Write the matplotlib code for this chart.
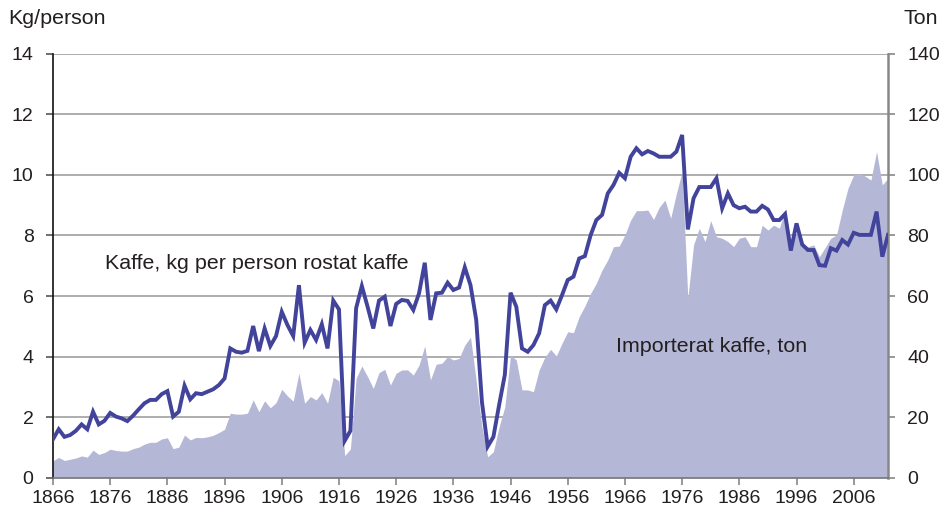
import numpy as np
import matplotlib
matplotlib.use("Agg")
import matplotlib.pyplot as plt

plt.rcParams['font.family'] = ['Liberation Sans', 'DejaVu Sans']

years = np.arange(1866, 2013)

# kaffe, kg per person (rostat), left axis
kg_person = [
    1.27, 1.60, 1.35, 1.41, 1.55, 1.76, 1.60, 2.18, 1.76, 1.88,   # 1866-1875
    2.14, 2.02, 1.96, 1.87, 2.05, 2.26, 2.46, 2.57, 2.57, 2.76,   # 1876-1885
    2.86, 2.02, 2.18, 3.04, 2.59, 2.79, 2.76, 2.84, 2.92, 3.06,   # 1886-1895
    3.28, 4.27, 4.16, 4.13, 4.19, 5.01, 4.18, 4.93, 4.35, 4.68,   # 1896-1905
    5.48, 5.04, 4.68, 6.36, 4.46, 4.88, 4.55, 5.07, 4.27, 5.85,   # 1906-1915
    5.56, 1.22, 1.55, 5.60, 6.33, 5.65, 4.93, 5.85, 5.98, 5.01,   # 1916-1925
    5.74, 5.87, 5.84, 5.54, 6.09, 7.10, 5.21, 6.09, 6.11, 6.44,   # 1926-1935
    6.20, 6.28, 6.95, 6.36, 5.21, 2.50, 1.03, 1.35, 2.40, 3.40,   # 1936-1945
    6.11, 5.65, 4.27, 4.16, 4.38, 4.77, 5.70, 5.85, 5.56, 6.03,   # 1946-1955
    6.53, 6.64, 7.24, 7.32, 8.01, 8.51, 8.68, 9.39, 9.67, 10.07,  # 1956-1965
    9.89, 10.60, 10.88, 10.68, 10.79, 10.71, 10.60, 10.60, 10.60, 10.77,  # 1966-1975
    11.32, 8.20, 9.23, 9.60, 9.60, 9.60, 9.89, 8.90, 9.39, 9.00,  # 1976-1985
    8.90, 8.95, 8.79, 8.79, 8.98, 8.86, 8.51, 8.51, 8.71, 7.50,   # 1986-1995
    8.40, 7.70, 7.52, 7.52, 7.02, 7.00, 7.58, 7.50, 7.85, 7.70,   # 1996-2005
    8.09, 8.02, 8.02, 8.02, 8.79, 7.30, 8.02,                     # 2006-2012
]

# importerat kaffe, ton, right axis
ton = [
    5.6, 6.7, 5.7, 6.1, 6.5, 7.2, 6.8, 9.1, 7.7, 8.3,
    9.4, 9.0, 8.8, 8.8, 9.6, 10.1, 11.1, 11.7, 11.7, 12.8,
    13.2, 9.6, 10.1, 14.1, 12.5, 13.3, 13.2, 13.5, 14.0, 14.9,
    16.0, 21.3, 21.0, 21.0, 21.3, 25.7, 21.8, 25.4, 23.1, 24.8,
    29.2, 27.0, 25.3, 34.5, 24.6, 26.8, 25.7, 28.1, 24.6, 33.2,
    32.0, 7.3, 9.5, 32.8, 36.9, 33.4, 29.5, 34.7, 35.8, 30.6,
    34.5, 35.6, 35.6, 33.9, 37.2, 43.5, 32.3, 37.5, 37.8, 40.0,
    38.9, 39.4, 43.8, 46.4, 32.0, 16.8, 6.9, 8.6, 16.8, 23.4,
    40.5, 38.9, 29.0, 29.0, 28.4, 35.6, 39.8, 42.4, 40.2, 44.4,
    48.2, 47.9, 53.2, 56.7, 60.9, 64.2, 68.6, 71.9, 76.3, 76.5,
    80.2, 85.1, 88.2, 88.2, 88.4, 85.3, 89.3, 91.7, 85.7, 93.9,
    101.1, 59.3, 76.9, 82.4, 78.0, 84.9, 79.6, 79.1, 78.0, 76.3,
    79.1, 79.6, 76.3, 76.3, 83.4, 81.8, 83.4, 82.4, 88.4, 78.5,
    80.7, 76.9, 76.3, 76.9, 73.0, 76.0, 79.1, 80.2, 88.4, 95.6,
    100.0, 100.5, 99.6, 98.3, 107.7, 96.7, 98.9,
]

xticks = np.arange(1866, 2007, 10)
line_col = '#42439b'
area_col = '#b5b7d7'
txt_col = '#231f20'

fig = plt.figure(figsize=(9.43, 5.15), dpi=100)
ax = fig.add_axes([0.0562, 0.0724, 0.8855, 0.8231])
ax2 = ax.twinx()

# area on right axis, with grid behind it
ax2.fill_between(years, 0, ton, color=area_col, linewidth=0, zorder=2)
ax2.set_ylim(0, 140)
ax2.set_yticks(np.arange(0, 141, 20))
ax2.set_axisbelow(True)
ax2.yaxis.grid(True, color='#a0a0a0', linewidth=1.2)

ax.plot(years, kg_person, color=line_col, linewidth=2.8, solid_joinstyle='miter', zorder=3)
ax.set_ylim(0, 14)
ax.set_yticks(np.arange(0, 15, 2))
ax.set_xlim(1866, 2012)
ax.set_xticks(xticks)
ax.set_zorder(ax2.get_zorder() + 1)
ax.patch.set_visible(False)

for a in (ax, ax2):
    a.spines['top'].set_visible(False)
ax.spines['right'].set_visible(False)
ax2.spines['left'].set_visible(False)
ax2.spines['bottom'].set_visible(False)
ax.spines['left'].set_color('#111111')
ax.spines['left'].set_linewidth(1.2)
ax.spines['bottom'].set_color('#777777')
ax.spines['bottom'].set_linewidth(1.2)
ax2.spines['right'].set_color('#888888')
ax2.spines['right'].set_linewidth(1.8)

ax.tick_params(axis='y', direction='out', length=5, width=1.2, color='#555555',
               pad=9, labelsize=14, labelcolor=txt_col)
ax.tick_params(axis='x', direction='out', length=5, width=1.2, color='#888888',
               pad=4, labelsize=14, labelcolor=txt_col)
ax2.tick_params(axis='y', direction='out', length=5, width=1.2, color='#888888',
                pad=9, labelsize=14, labelcolor=txt_col)

ax.text(1875.1, 7.08, 'Kaffe, kg per person rostat kaffe', fontsize=15.4,
        color=txt_col, va='center', ha='left', zorder=5)
ax.text(1964.4, 4.32, 'Importerat kaffe, ton', fontsize=15.4,
        color=txt_col, va='center', ha='left', zorder=5)

fig.text(8 / 943, 1 - 18 / 515, 'Kg/person', fontsize=15.4, color=txt_col,
         va='center', ha='left')
fig.text(938 / 943, 1 - 18 / 515, 'Ton', fontsize=15.4, color=txt_col,
         va='center', ha='right')

fig.savefig('out.png', dpi=100)
